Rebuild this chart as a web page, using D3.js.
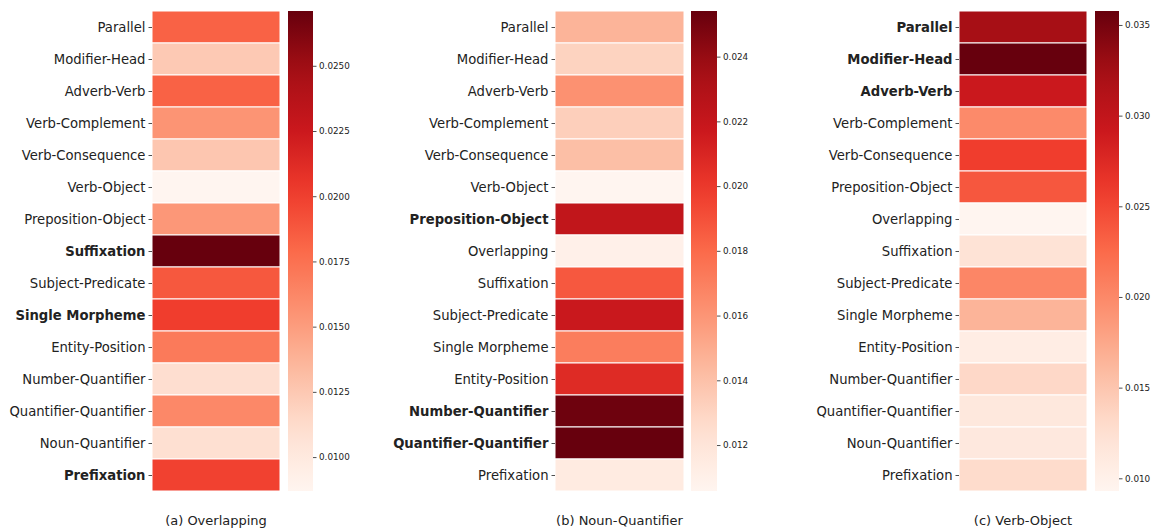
<!DOCTYPE html>
<html><head><meta charset="utf-8">
<script src="https://cdn.jsdelivr.net/npm/d3@7"></script>
<style>body{margin:0;background:#fff}svg{display:block;font-family:"DejaVu Sans",sans-serif}</style>
</head><body><svg id="c" width="1157" height="531"></svg>
<script>
// ---- data ----
const catsA = ["Parallel","Modifier-Head","Adverb-Verb","Verb-Complement","Verb-Consequence","Verb-Object","Preposition-Object","Suffixation","Subject-Predicate","Single Morpheme","Entity-Position","Number-Quantifier","Quantifier-Quantifier","Noun-Quantifier","Prefixation"];
const valsA = [0.0183,0.0124,0.0183,0.0155,0.0126,0.0087,0.0153,0.0271,0.0188,0.0201,0.0170,0.0111,0.0162,0.0110,0.0199];
const boldA = ["Suffixation","Single Morpheme","Prefixation"];
const ticksA = [0.0100,0.0125,0.0150,0.0175,0.0200,0.0225,0.0250];

const catsB = ["Parallel","Modifier-Head","Adverb-Verb","Verb-Complement","Verb-Consequence","Verb-Object","Preposition-Object","Overlapping","Suffixation","Subject-Predicate","Single Morpheme","Entity-Position","Number-Quantifier","Quantifier-Quantifier","Prefixation"];
const valsB = [0.0146,0.0131,0.0162,0.0133,0.0141,0.01058,0.0222,0.0110,0.0187,0.0218,0.0171,0.0207,0.0252,0.02541,0.0115];
const boldB = ["Preposition-Object","Number-Quantifier","Quantifier-Quantifier"];
const ticksB = [0.012,0.014,0.016,0.018,0.020,0.022,0.024];

const catsC = ["Parallel","Modifier-Head","Adverb-Verb","Verb-Complement","Verb-Consequence","Preposition-Object","Overlapping","Suffixation","Subject-Predicate","Single Morpheme","Entity-Position","Number-Quantifier","Quantifier-Quantifier","Noun-Quantifier","Prefixation"];
const valsC = [0.0323,0.03577,0.0292,0.0199,0.0257,0.0239,0.0093,0.0122,0.0202,0.0165,0.0106,0.0133,0.0114,0.0113,0.0130];
const boldC = ["Parallel","Modifier-Head","Adverb-Verb"];
const ticksC = [0.010,0.015,0.020,0.025,0.030,0.035];

const captions = ["(a) Overlapping","(b) Noun-Quantifier","(c) Verb-Object"];

// ---- drawing ----
const reds = d3.piecewise(d3.interpolateRgb, ["#fff5f0","#fee0d2","#fcbba1","#fc9272","#fb6a4a","#ef3b2c","#cb181d","#a50f15","#67000d"]);
const svg = d3.select("#c");
const yTop = 11, yBottom = 491;

const panels = [
  {cats:catsA, vals:valsA, bold:boldA, ticks:ticksA, fmt:".4f", x0:152, x1:280, cb0:288, cb1:313},
  {cats:catsB, vals:valsB, bold:boldB, ticks:ticksB, fmt:".3f", x0:555, x1:684, cb0:691, cb1:717},
  {cats:catsC, vals:valsC, bold:boldC, ticks:ticksC, fmt:".3f", x0:959, x1:1087, cb0:1095, cb1:1119}
];

panels.forEach((p, i) => {
  const ext = d3.extent(p.vals);
  const color = d3.scaleSequential(reds).domain(ext);
  const y = d3.scaleBand().domain(p.cats).range([yTop, yBottom]).padding(0);
  const g = svg.append("g");
  g.selectAll("rect.cell").data(p.cats).join("rect")
    .attr("x", p.x0).attr("y", d => y(d))
    .attr("width", p.x1 - p.x0).attr("height", y.bandwidth())
    .attr("fill", (d, k) => color(p.vals[k]))
    .attr("stroke", "#fff").attr("stroke-width", 1);

  const ax = g.append("g").attr("transform", `translate(${p.x0},0.5)`)
    .call(d3.axisLeft(y).tickSize(3.5).tickPadding(3));
  ax.select(".domain").remove();
  ax.selectAll(".tick line").attr("stroke", "#222").attr("stroke-width", 0.8);
  ax.selectAll(".tick text").attr("fill", "#222").style("font-size", "13.2px")
    .style("font-family", "'DejaVu Sans'")
    .style("font-weight", d => p.bold.includes(d) ? "bold" : "normal");

  // colorbar
  const gid = "grad" + i;
  const lg = svg.append("defs").append("linearGradient").attr("id", gid)
    .attr("x1", 0).attr("y1", 1).attr("x2", 0).attr("y2", 0);
  d3.range(0, 1.0001, 0.05).forEach(t => {
    lg.append("stop").attr("offset", t).attr("stop-color", reds(t));
  });
  g.append("rect").attr("x", p.cb0).attr("y", yTop).attr("width", p.cb1 - p.cb0)
    .attr("height", yBottom - yTop).attr("fill", `url(#${gid})`);
  const cy = d3.scaleLinear().domain(ext).range([yBottom, yTop]);
  const cax = g.append("g").attr("transform", `translate(${p.cb1},0)`)
    .call(d3.axisRight(cy).tickValues(p.ticks).tickFormat(d3.format(p.fmt)).tickSize(3.5).tickPadding(2.5));
  cax.select(".domain").remove();
  cax.selectAll(".tick line").attr("stroke", "#222").attr("stroke-width", 0.8);
  cax.selectAll(".tick text").attr("fill", "#222").style("font-size", "8.8px")
    .style("font-family", "'DejaVu Sans'");

  g.append("text").attr("x", (p.x0 + p.x1) / 2).attr("y", 525)
    .attr("text-anchor", "middle").attr("fill", "#222")
    .style("font-size", "13px").text(captions[i]);
});
</script></body></html>
